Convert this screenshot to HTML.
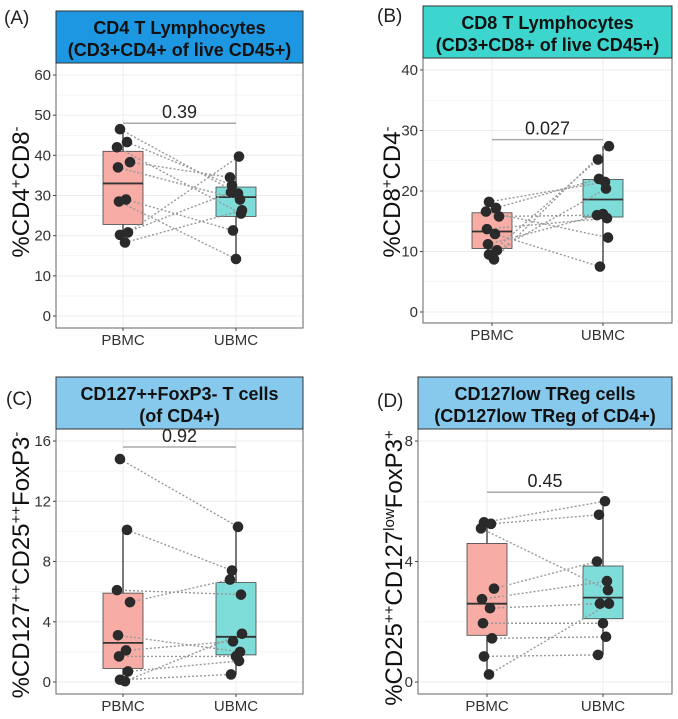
<!DOCTYPE html>
<html><head><meta charset="utf-8"><style>
body{margin:0;background:#fff;}
svg text{font-family:"Liberation Sans",sans-serif;}
</style></head><body>
<svg id="s" width="678" height="714" xmlns="http://www.w3.org/2000/svg"></svg>
<script>
const S='<tspan baseline-shift="super" font-size="15">',E='</tspan>';
const P=[
{lab:"(A)",lx:4,ly:24,x0:56,x1:303,h0:11,h1:63,b:328,y0:316,max:60,step:10,xP:123,xU:236,hc:"#1e97e2",
 t:["CD4 T Lymphocytes","(CD3+CD4+ of live CD45+)"],br:48,pv:"0.39",
 p:[46.5,43.3,42,38.3,37,29,28.5,20.8,20.2,18.3],u:[30.5,32.5,25.5,34.5,29,21.3,14.2,39.7,30.8,26.3],
 bp:[18.3,22.8,33,41,46.5],bu:[14.2,24.8,29.6,32.1,39.7],yl:'%CD4'+S+'+'+E+'CD8'+S+'-'+E,ylx:20,yly:192},
{lab:"(B)",lx:377,ly:22,x0:423,x1:672,h0:6,h1:58,b:323,y0:312,max:40,step:10,xP:492,xU:603,hc:"#3dd6cf",
 t:["CD8 T Lymphocytes","(CD3+CD8+ of live CD45+)"],br:28.5,pv:"0.027",
 p:[18.2,17.2,16.6,15.8,13.7,12.9,11.2,10.2,9.5,8.7],u:[21.5,22,12.3,16,15.5,7.5,16.2,20.4,25.2,27.4],
 bp:[8.7,10.5,13.3,16.4,18.2],bu:[7.5,15.7,18.6,21.9,27.4],yl:'%CD8'+S+'+'+E+'CD4'+S+'-'+E,ylx:391,yly:192},
{lab:"(C)",lx:6,ly:405,x0:56,x1:303,h0:377,h1:429,b:694,y0:682,max:16,step:4,xP:123,xU:236,hc:"#87c9ec",
 t:["CD127++FoxP3- T cells","(of CD4+)"],br:15.6,pv:"0.92",
 p:[14.8,10.1,6.1,5.3,3.1,2.1,1.7,0.7,0.15,0.05],u:[10.3,7.4,5.8,6.8,2.0,2.7,1.7,1.4,0.5,3.2],
 bp:[0.05,0.9,2.6,5.9,10.1],bu:[0.5,1.8,3.0,6.6,10.3],yl:'%CD127'+S+'++'+E+'CD25'+S+'++'+E+'FoxP3'+S+'-'+E,ylx:20,yly:565},
{lab:"(D)",lx:377,ly:407,x0:418,x1:672,h0:377,h1:429,b:694,y0:682,max:8,step:4,xP:487,xU:603,hc:"#87c9ec",
 t:["CD127low TReg cells","(CD127low TReg of CD4+)"],br:6.3,pv:"0.45",
 p:[5.3,5.25,5.1,3.1,2.75,2.45,1.95,1.45,0.85,0.25],u:[6.0,5.55,3.05,4.0,3.35,2.6,1.95,1.5,0.9,2.6],
 bp:[0.25,1.55,2.6,4.6,5.3],bu:[0.9,2.1,2.8,3.85,6.0],yl:'%CD25'+S+'++'+E+'CD127'+S+'low'+E+'FoxP3'+S+'+'+E,ylx:393,yly:568}
];
const jp=[-3,4,-6,7,-5,3,-4,5,-3,2],ju=[2,-4,5,-6,4,-3,0,3,-5,6];
let h="";
for(const c of P){
 const sc=(c.y0-(c.h1+12))/c.max; const Y=v=>c.y0-v*sc;
 h+=`<text x="${c.lx}" y="${c.ly}" font-size="19" fill="#222">${c.lab}</text>`;
 h+=`<rect x="${c.x0}" y="${c.h1}" width="${c.x1-c.x0}" height="${c.b-c.h1}" fill="#fff"/>`;
 for(let v=0;v<=c.max;v+=c.step/2){const y=Y(v);h+=`<line x1="${c.x0}" x2="${c.x1}" y1="${y}" y2="${y}" stroke="#ececec" stroke-width="${(v/c.step)%1?0.6:1}"/>`;}
 for(const x of[c.xP,c.xU])h+=`<line x1="${x}" x2="${x}" y1="${c.h1}" y2="${c.b}" stroke="#ececec"/>`;
 for(let v=0;v<=c.max;v+=c.step){const y=Y(v);h+=`<line x1="${c.x0-3}" x2="${c.x0}" y1="${y}" y2="${y}" stroke="#444"/><text x="${c.x0-5}" y="${y+5}" font-size="15" fill="#333" text-anchor="end">${v}</text>`;}
 const box=(x,b,f)=>{h+=`<line x1="${x}" x2="${x}" y1="${Y(b[0])}" y2="${Y(b[4])}" stroke="#333" stroke-width="1.3"/>`;
  h+=`<rect x="${x-20}" y="${Y(b[3])}" width="40" height="${Y(b[1])-Y(b[3])}" fill="${f}" stroke="#444" stroke-width="0.8"/>`;
  h+=`<line x1="${x-20}" x2="${x+20}" y1="${Y(b[2])}" y2="${Y(b[2])}" stroke="#333" stroke-width="1.8"/>`;};
 box(c.xP,c.bp,"#f8aca6");box(c.xU,c.bu,"#7fddd9");
 for(let i=0;i<10;i++)h+=`<line x1="${c.xP+jp[i]}" y1="${Y(c.p[i])}" x2="${c.xU+ju[i]}" y2="${Y(c.u[i])}" stroke="#999" stroke-width="1.4" stroke-dasharray="2,2"/>`;
 for(let i=0;i<10;i++){h+=`<circle cx="${c.xP+jp[i]}" cy="${Y(c.p[i])}" r="5.3" fill="#2a2a2a"/><circle cx="${c.xU+ju[i]}" cy="${Y(c.u[i])}" r="5.3" fill="#2a2a2a"/>`;}
 const by=Y(c.br);h+=`<line x1="${c.xP}" x2="${c.xU}" y1="${by}" y2="${by}" stroke="#aaa" stroke-width="1.5"/><text x="${(c.xP+c.xU)/2}" y="${by-5}" font-size="18" fill="#222" text-anchor="middle">${c.pv}</text>`;
 h+=`<rect x="${c.x0}" y="${c.h1}" width="${c.x1-c.x0}" height="${c.b-c.h1}" fill="none" stroke="#666" stroke-width="1"/>`;
 h+=`<rect x="${c.x0}" y="${c.h0}" width="${c.x1-c.x0}" height="${c.h1-c.h0}" fill="${c.hc}" stroke="#333" stroke-width="1"/>`;
 const cx=(c.x0+c.x1)/2;
 h+=`<text x="${cx}" y="${c.h0+23}" font-size="18" font-weight="bold" fill="#111" text-anchor="middle">${c.t[0]}</text><text x="${cx}" y="${c.h0+45}" font-size="18" font-weight="bold" fill="#111" text-anchor="middle">${c.t[1]}</text>`;
 for(const [x,l] of [[c.xP,"PBMC"],[c.xU,"UBMC"]])h+=`<line x1="${x}" x2="${x}" y1="${c.b}" y2="${c.b+3}" stroke="#444"/><text x="${x}" y="${c.b+17}" font-size="15" fill="#333" text-anchor="middle">${l}</text>`;
 h+=`<text transform="translate(${c.ylx+9},${c.yly}) rotate(-90)" font-size="24" fill="#111" text-anchor="middle">${c.yl}</text>`;
}
document.getElementById("s").innerHTML=h;
</script>
</body></html>
